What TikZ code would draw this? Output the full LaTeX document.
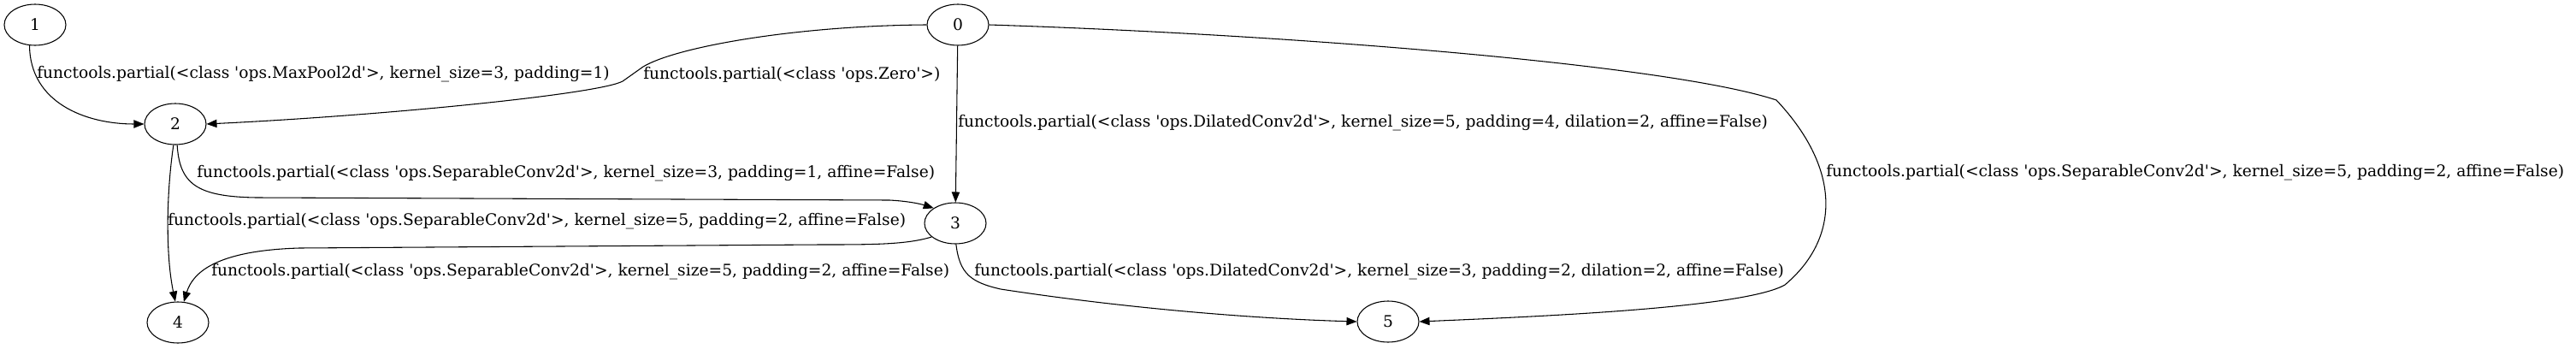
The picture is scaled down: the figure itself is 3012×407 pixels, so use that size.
\documentclass[tikz,border=0pt]{standalone}
\usepackage{fontspec}
\setmainfont{DejaVu Serif}
\usetikzlibrary{shapes.geometric,arrows.meta}
\newcommand{\apos}{\textquotesingle}

\begin{document}
\begin{tikzpicture}[x=0.75pt,y=-0.75pt,
  every node/.style={font=\fontsize{14}{17}\selectfont},
  op/.style={draw,ellipse,line width=0.8pt,minimum width=54pt,minimum height=36pt,inner sep=0pt},
  lbl/.style={anchor=west,inner sep=0pt},
  edge/.style={line width=0.8pt,-{Triangle[length=9pt,width=7pt]}}]
\useasboundingbox (0,0) rectangle (3012,407);
\node[op] (n1) at (41,29) {1};
\node[op] (n0) at (1120,29) {0};
\node[op] (n2) at (205,145) {2};
\node[op] (n3) at (1117,261) {3};
\node[op] (n4) at (208,377) {4};
\node[op] (n5) at (1623,376) {5};
\draw[edge] (n1.255) .. controls (35,120) and (100,145) .. (n2.west);
\draw[edge] (n0.west) .. controls (930,30) and (790,55) .. (752,78) -- (728,95) .. controls (700,110) and (450,135) .. (n2.east);
\draw[edge] (n0) -- (n3);
\draw[edge] (n0.east) .. controls (1500,40) and (1950,75) .. (2077,117) .. controls (2155,200) and (2150,280) .. (2087,333) .. controls (2040,360) and (1800,370) .. (n5.east);
\draw[edge] (n2.-85) .. controls (210,215) and (230,230) .. (300,231) -- (1040,234) .. controls (1060,235) and (1075,238) .. (n3.145);
\draw[edge] (n2.-95) .. controls (194,230) and (194,300) .. (n4.97);
\draw[edge] (n3.210) .. controls (1060,286) and (1020,286) .. (960,286) -- (350,290) .. controls (250,293) and (225,320) .. (n4.74);
\draw[edge] (n3.-88) .. controls (1122,320) and (1135,330) .. (1170,338) .. controls (1300,358) and (1450,372) .. (n5.west);
\node[lbl] (l12) at (43,87) {functools.partial(<class \apos ops.MaxPool2d\apos>, kernel\_size=3, padding=1)};
\node[lbl] (l02) at (752,87) {functools.partial(<class \apos ops.Zero\apos>)};
\node[lbl] (l03) at (1120,144) {functools.partial(<class \apos ops.DilatedConv2d\apos>, kernel\_size=5, padding=4, dilation=2, affine=False)};
\node[lbl] (l05) at (2135,202) {functools.partial(<class \apos ops.SeparableConv2d\apos>, kernel\_size=5, padding=2, affine=False)};
\node[lbl] (l23) at (230,203) {functools.partial(<class \apos ops.SeparableConv2d\apos>, kernel\_size=3, padding=1, affine=False)};
\node[lbl] (l24) at (196,259) {functools.partial(<class \apos ops.SeparableConv2d\apos>, kernel\_size=5, padding=2, affine=False)};
\node[lbl] (l34) at (247,318) {functools.partial(<class \apos ops.SeparableConv2d\apos>, kernel\_size=5, padding=2, affine=False)};
\node[lbl] (l35) at (1139,318) {functools.partial(<class \apos ops.DilatedConv2d\apos>, kernel\_size=3, padding=2, dilation=2, affine=False)};
\end{tikzpicture}
\end{document}
